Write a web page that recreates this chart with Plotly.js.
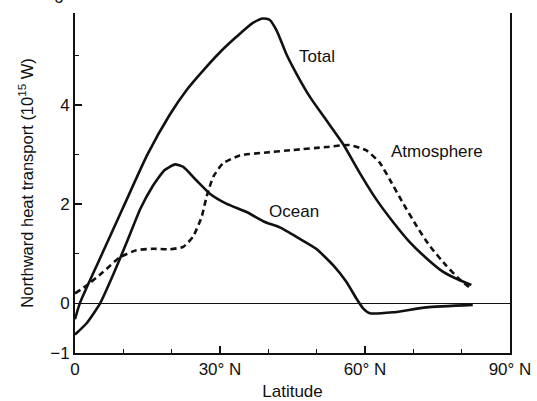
<!DOCTYPE html>
<html>
<head>
<meta charset="utf-8">
<script src="https://cdn.plot.ly/plotly-3.0.1.min.js"></script>
<style>html,body{margin:0;padding:0;background:#fff;}#chart{width:537px;height:401px;}</style>
</head>
<body>
<div id="chart"></div>
<script>
// Latitude (degrees N) and northward heat transport (10^15 W)
const totalLat = [0, 1, 5, 10, 15, 19.6, 23.1, 26.5, 30, 33.4, 36.8, 38.9, 40.3, 41.7, 43.7, 45.8, 48.6, 52, 55.4, 58.9, 62.3, 65.8, 69.2, 72.7, 76.1, 79.5, 82];
const totalVal = [-0.32, 0, 0.87, 1.94, 3.0, 3.80, 4.30, 4.69, 5.06, 5.37, 5.65, 5.74, 5.71, 5.50, 5.03, 4.63, 4.16, 3.69, 3.22, 2.63, 2.1, 1.64, 1.24, 0.91, 0.64, 0.47, 0.37];

const atmosLat = [0, 2.4, 5.8, 9.3, 12.7, 16.2, 19.6, 22.4, 24.4, 26.2, 27.2, 28.6, 30.6, 34.1, 39.6, 45.1, 52, 56.8, 60.3, 63, 65.1, 67.8, 70.6, 73.3, 76.8, 79.5, 82];
const atmosVal = [0.2, 0.36, 0.63, 0.93, 1.07, 1.10, 1.09, 1.14, 1.34, 1.74, 2.14, 2.55, 2.82, 2.98, 3.04, 3.09, 3.15, 3.19, 3.08, 2.84, 2.5, 2.03, 1.57, 1.17, 0.76, 0.49, 0.29];

const oceanLat = [0, 2.4, 5.2, 8, 11, 13.5, 16, 18.5, 20.7, 22.4, 25.1, 27.9, 31.3, 35.5, 39.3, 42.4, 46.5, 49.9, 53.4, 56.1, 58.2, 59.6, 61, 65.8, 72.7, 82.3];
const oceanVal = [-0.63, -0.4, 0, 0.6, 1.3, 1.9, 2.35, 2.68, 2.80, 2.75, 2.48, 2.21, 2.01, 1.84, 1.64, 1.53, 1.3, 1.1, 0.77, 0.44, 0.1, -0.1, -0.2, -0.18, -0.08, -0.03];

const xTickVals = [0, 30, 60, 90];
const xTickText = ["0", "30° N", "60° N", "90° N"];
const yTickVals = [-1, 0, 2, 4];
const yTickText = ["−1", "0", "2", "4"];

const seriesLabels = [
  {text: "Total", x: 50.1, y: 4.97},
  {text: "Ocean", x: 45.25, y: 1.85},
  {text: "Atmosphere", x: 74.9, y: 3.05}
];

const FONT = "Liberation Sans, Arial, Helvetica, sans-serif";

const traces = [
  {x: totalLat, y: totalVal, name: "Total", mode: "lines",
   line: {color: "#111", width: 2.6, shape: "spline", smoothing: 0.6}},
  {x: oceanLat, y: oceanVal, name: "Ocean", mode: "lines",
   line: {color: "#111", width: 2.6, shape: "spline", smoothing: 0.5}},
  {x: atmosLat, y: atmosVal, name: "Atmosphere", mode: "lines",
   line: {color: "#111", width: 2.6, dash: "6px,4px", shape: "spline", smoothing: 0.5}}
];

const annotations = seriesLabels.map(l => ({
  x: l.x, y: l.y, xref: "x", yref: "y", text: l.text, showarrow: false,
  font: {family: FONT, size: 17, color: "#111"}
}));
annotations.push({
  x: 0, y: 1.045, xref: "paper", yref: "paper", text: "6", showarrow: false,
  xanchor: "right", yanchor: "middle", xshift: -10,
  font: {family: FONT, size: 17, color: "#111"}
});

const layout = {
  width: 537, height: 401,
  margin: {l: 75, r: 27, t: 13, b: 48},
  paper_bgcolor: "#fff", plot_bgcolor: "#fff",
  showlegend: false,
  font: {family: FONT, size: 17, color: "#111"},
  xaxis: {
    range: [0, 90], showgrid: false, zeroline: false,
    showline: true, linecolor: "#111", linewidth: 2, mirror: false,
    tickmode: "array", tickvals: xTickVals, ticktext: xTickText,
    ticks: "inside", ticklen: 7, tickwidth: 1.5, tickcolor: "#111",
    minor: {dtick: 10, tick0: 0, ticks: "inside", ticklen: 4, tickwidth: 1.2, tickcolor: "#111", showgrid: false},
    tickfont: {family: FONT, size: 17, color: "#111"},
    title: {text: "Latitude", font: {family: FONT, size: 17, color: "#111"}, standoff: 8}
  },
  yaxis: {
    range: [-1, 5.85], showgrid: false,
    zeroline: true, zerolinecolor: "#111", zerolinewidth: 1.2,
    showline: true, linecolor: "#111", linewidth: 2, mirror: true,
    tickmode: "array", tickvals: yTickVals, ticktext: yTickText,
    ticks: "inside", ticklen: 7, tickwidth: 1.5, tickcolor: "#111",
    minor: {dtick: 1, tick0: 0, ticks: "inside", ticklen: 4, tickwidth: 1.2, tickcolor: "#111", showgrid: false},
    tickfont: {family: FONT, size: 17, color: "#111"},
    title: {text: "Northward heat transport (10<sup>15</sup> W)", font: {family: FONT, size: 16.5, color: "#111"}, standoff: 12}
  },
  annotations: annotations
};

Plotly.newPlot("chart", traces, layout, {staticPlot: true, displayModeBar: false});
</script>
</body>
</html>
